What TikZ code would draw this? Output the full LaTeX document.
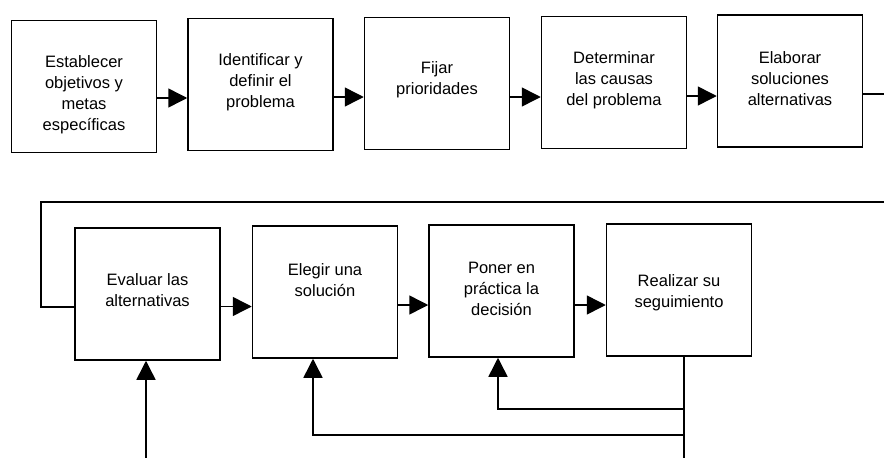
\documentclass[tikz,border=0pt]{standalone}
\usepackage{fontspec}
\setmainfont{Liberation Sans}
\usetikzlibrary{arrows.meta,calc}
\tikzset{
  stepbox/.style={draw=black, line width=1.5pt, minimum width=145pt, minimum height=132pt, inner sep=0pt},
  txt/.style={align=center, font=\fontsize{16.5pt}{21pt}\selectfont, inner sep=0pt},
  conn/.style={draw=black, line width=1.5pt},
  arr/.style={conn, -{Triangle[length=19pt,width=19pt]}},
}
\begin{document}
\begin{tikzpicture}[x=1pt,y=1pt]
\useasboundingbox (0,0) rectangle (884,-458);
% top row
\node[stepbox] (b1) at (84,-86.5) {};
\node[stepbox] (b2) at (260.5,-84.5) {};
\node[stepbox] (b3) at (437,-83.5) {};
\node[stepbox] (b4) at (614,-82.5) {};
\node[stepbox] (b5) at (790,-81) {};
\node[txt] (t1) at (84,-95) {Establecer\\objetivos y\\metas\\específicas};
\node[txt] (t2) at (260.5,-82.5) {Identificar y\\definir el\\problema};
\node[txt] (t3) at (437,-80) {Fijar\\prioridades};
\node[txt] (t4) at (614,-80) {Determinar\\las causas\\del problema};
\node[txt] (t5) at (790,-79) {Elaborar\\soluciones\\alternativas};
% bottom row
\node[stepbox] (b6) at (147.5,-294) {};
\node[stepbox] (b7) at (325,-292) {};
\node[stepbox] (b8) at (501.5,-291) {};
\node[stepbox] (b9) at (679,-290) {};
\node[txt] (t6) at (147.5,-290.5) {Evaluar las\\alternativas};
\node[txt] (t7) at (325,-280) {Elegir una\\solución};
\node[txt] (t8) at (501.5,-289) {Poner en\\práctica la\\decisión};
\node[txt] (t9) at (679,-292.5) {Realizar su\\seguimiento};
% free ends
\coordinate (r1) at (884,-94);
\coordinate (r2) at (884,-202);
\coordinate (l1) at (41,-202);
\coordinate (l2) at (41,-307);
\coordinate (f1) at (146,-458);
\coordinate (f2) at (684,-458);
\coordinate (j1) at (684,-409);
\coordinate (j2) at (684,-435);
\coordinate (c8) at (498,-409);
\coordinate (c7) at (313,-435);
% top arrows
\draw[arr] ([yshift=-11.5pt]b1.east) -- ([yshift=-11.5pt]b1.east -| b2.west);
\draw[arr] ([yshift=-12.5pt]b2.east) -- ([yshift=-12.5pt]b2.east -| b3.west);
\draw[arr] ([yshift=-13.5pt]b3.east) -- ([yshift=-13.5pt]b3.east -| b4.west);
\draw[arr] ([yshift=-13.5pt]b4.east) -- ([yshift=-13.5pt]b4.east -| b5.west);
\draw[conn] (b5.east |- r1) -- (r1);
% loop to second row
\draw[conn] (r2) -- (l1) -- (l2) -- (l2 -| b6.west);
% bottom arrows
\draw[arr] ([yshift=-12.5pt]b6.east) -- ([yshift=-12.5pt]b6.east -| b7.west);
\draw[arr] ([yshift=-13pt]b7.east) -- ([yshift=-13pt]b7.east -| b8.west);
\draw[arr] ([yshift=-14pt]b8.east) -- ([yshift=-14pt]b8.east -| b9.west);
% feedback
\draw[arr] (f1) -- (f1 |- b6.south);
\draw[conn] (f2 |- b9.south) -- (f2);
\draw[arr] (j1) -- (c8) -- (c8 |- b8.south);
\draw[arr] (j2) -- (c7) -- (c7 |- b7.south);
\end{tikzpicture}
\end{document}
